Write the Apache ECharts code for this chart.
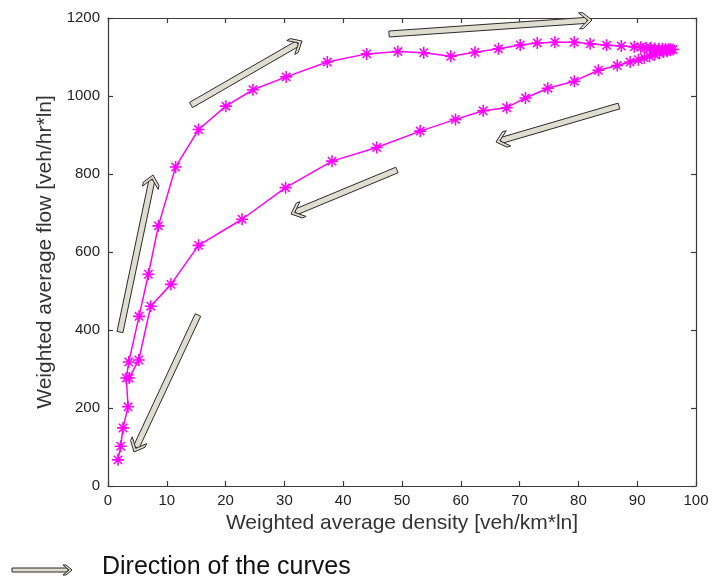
<!DOCTYPE html>
<html>
<head>
<meta charset="utf-8">
<script src="https://cdn.jsdelivr.net/npm/echarts@6/dist/echarts.min.js"></script>
<style>
  html, body { margin: 0; padding: 0; background: #fff; }
  #main { width: 713px; height: 583px; }
</style>
</head>
<body>
<div id="main"></div>
<script>
// weighted average density [veh/km*ln] (loading branch up, then unloading branch back down)
var density = [1.70, 2.16, 2.56, 3.41, 3.12, 3.53, 5.28, 6.87, 8.57, 11.5, 15.4, 20.05, 24.65, 30.3, 37.3, 44.0,
    49.3, 53.7, 58.3, 62.4, 66.4, 70.1, 73.0, 76.0, 79.3, 82.0, 84.8, 87.3, 89.5, 90.6, 91.5, 92.3, 93.0, 93.7,
    94.3, 94.8, 95.3, 95.7, 96.1, 95.6, 95.1, 94.5, 93.8, 93.0, 92.1, 91.2, 90.2, 88.8, 86.6, 83.4, 79.3, 74.8,
    71.0, 67.8, 63.8, 59.1, 53.1, 45.7, 38.1, 30.2, 22.8, 15.4, 10.7, 7.27, 5.23, 3.6];
// weighted average flow [veh/hr*ln]
var flow = [67, 102, 149, 203, 277, 318, 435, 543, 667, 818, 914, 974, 1016, 1049, 1087, 1108,
    1114, 1111, 1102, 1112, 1121, 1131, 1136, 1138, 1138, 1134, 1130, 1128, 1126, 1125, 1124, 1123, 1122, 1121,
    1121, 1120, 1120, 1120, 1119, 1117, 1115, 1113, 1110, 1106, 1102, 1098, 1093, 1087, 1078, 1066, 1038, 1020,
    995, 970, 962, 940, 910, 868, 833, 765, 684, 617, 517, 461, 323, 277];

var points = density.map(function (d, i) { return [d, flow[i]]; });

// matlab style '*' marker
var asterisk = 'path://M8.7 0L11.3 0L11.3 20L8.7 20Z M0 8.7L20 8.7L20 11.3L0 11.3Z ' +
    'M2.1 3.9L3.9 2.1L17.9 16.1L16.1 17.9Z M16.1 2.1L17.9 3.9L3.9 17.9L2.1 16.1Z';

// hollow "direction" arrows drawn on top (tail -> tip, in pixels)
function arrow(x1, y1, x2, y2, a, hw, hl, c) {
    var dx = x2 - x1, dy = y2 - y1;
    var L = Math.sqrt(dx * dx + dy * dy);
    var ux = dx / L, uy = dy / L, nx = -uy, ny = ux;
    function p(s, t) { return [x1 + ux * s + nx * t, y1 + uy * s + ny * t]; }
    var style = { fill: '#deded0', stroke: '#2a2a2a', lineWidth: 1 };
    return [
        { type: 'polygon', z: 100, shape: { points: [p(0, -a), p(L - c - 1, -a), p(L - c - 1, a), p(0, a)] }, style: style },
        { type: 'polygon', z: 101, shape: { points: [p(L, 0), p(L - hl, hw), p(L - hl - c, hw), p(L - c, 0), p(L - hl - c, -hw), p(L - hl, -hw)] }, style: style }
    ];
}

var arrows = [].concat(
    arrow(120, 332, 153, 175, 3, 8, 9, 4),
    arrow(198, 315, 134, 452, 3, 8, 9, 4),
    arrow(191, 105, 302, 41, 3, 8, 9, 4),
    arrow(389, 34, 592, 20, 3, 8, 9, 4),
    arrow(397, 170, 291, 214, 3, 8, 9, 4),
    arrow(619, 106, 496, 142, 3, 8, 9, 4),
    arrow(12, 570, 72, 570, 2, 5, 6, 3)
);

var chart = echarts.init(document.getElementById('main'));

var axisLineStyle = { color: '#3a3a3a', width: 1.2 };
var labelFont = { color: '#222', fontSize: 15, fontFamily: 'Liberation Sans, Arial' };
var nameFont = { color: '#333', fontSize: 21, fontFamily: 'Liberation Sans, Arial' };

option = {
    animation: false,
    backgroundColor: '#fff',
    grid: { left: 108, right: 17, top: 18, bottom: 97 },
    xAxis: [{
        type: 'value',
        min: 0, max: 100, interval: 10,
        name: 'Weighted average density [veh/km*ln]',
        nameLocation: 'middle',
        nameGap: 26,
        nameTextStyle: nameFont,
        axisLine: { show: true, onZero: false, lineStyle: axisLineStyle },
        axisTick: { show: true, inside: true, length: 5, lineStyle: axisLineStyle },
        axisLabel: Object.assign({ margin: 7, formatter: '{value}' }, labelFont),
        splitLine: { show: false }
    }, {
        type: 'value', position: 'top',
        min: 0, max: 100, interval: 10,
        axisLine: { show: true, onZero: false, lineStyle: axisLineStyle },
        axisTick: { show: true, inside: true, length: 5, lineStyle: axisLineStyle },
        axisLabel: { show: false },
        splitLine: { show: false }
    }],
    yAxis: [{
        type: 'value',
        min: 0, max: 1200, interval: 200,
        name: 'Weighted average flow [veh/hr*ln]',
        nameLocation: 'middle',
        nameGap: 50,
        nameTextStyle: nameFont,
        axisLine: { show: true, onZero: false, lineStyle: axisLineStyle },
        axisTick: { show: true, inside: true, length: 5, lineStyle: axisLineStyle },
        axisLabel: Object.assign({ margin: 8, formatter: function (v) { return String(v); } }, labelFont),
        splitLine: { show: false }
    }, {
        type: 'value', position: 'right',
        min: 0, max: 1200, interval: 200,
        axisLine: { show: true, onZero: false, lineStyle: axisLineStyle },
        axisTick: { show: true, inside: true, length: 5, lineStyle: axisLineStyle },
        axisLabel: { show: false },
        splitLine: { show: false }
    }],
    series: [{
        type: 'line',
        data: points,
        symbol: asterisk,
        symbolSize: 12,
        showAllSymbol: true,
        lineStyle: { color: '#ff00ff', width: 1.5 },
        itemStyle: { color: '#ff00ff' }
    }],
    graphic: arrows.concat([{
        type: 'text',
        left: 102, top: 555,
        style: { text: 'Direction of the curves', fill: '#111', fontSize: 25, fontFamily: 'Liberation Sans, Arial' }
    }])
};
chart.setOption(option);
</script>
</body>
</html>
